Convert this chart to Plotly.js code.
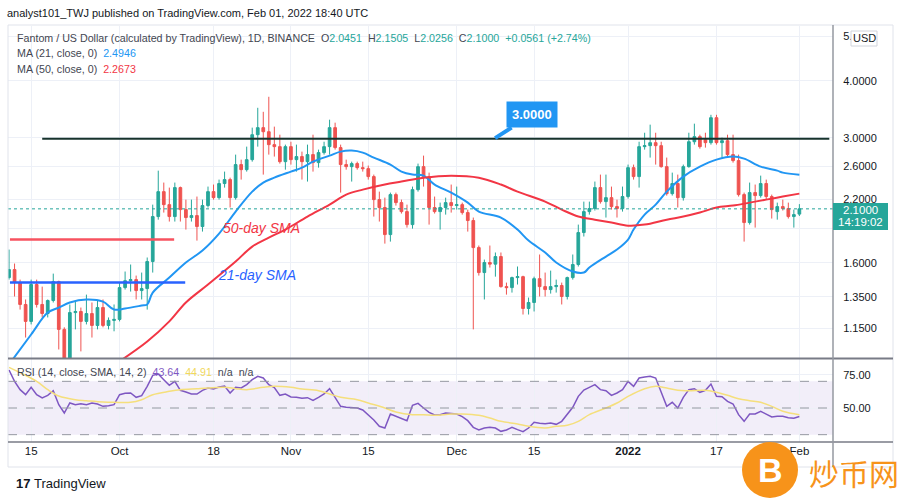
<!DOCTYPE html>
<html>
<head>
<meta charset="utf-8">
<script src="https://cdn.plot.ly/plotly-3.0.1.min.js"></script>
<style>
  html, body { margin: 0; padding: 0; background: #fff; }
  #chart { width: 900px; height: 499px; }
</style>
</head>
<body>
<div id="chart"></div>
<script>
// daily FTM/USD candles, 2021-09-11 .. 2022-02-01 (one value per day)
const startDate = '2021-09-11';

const opens = [
  1.486,1.547,1.449,1.298,1.192,1.435,1.298,1.240,1.324,1.456,1.145,0.985,1.246,1.253,1.192,1.240,1.168,1.278,1.168,1.198,
  1.204,1.413,1.463,1.471,1.392,1.406,1.611,2.020,2.290,2.145,2.020,2.337,2.092,2.010,2.030,1.921,2.135,2.290,2.222,2.385,2.433,2.222,2.624,2.558,2.690,3.050,3.160,3.096,2.901,2.872,2.663,
  2.872,2.690,2.732,2.663,2.759,2.650,2.787,2.872,3.160,2.858,2.624,2.597,2.637,2.584,2.571,2.470,2.200,2.114,1.845,2.256,2.167,2.071,1.940,2.313,2.597,2.470,2.114,2.071,2.114,2.167,
  2.135,2.145,2.061,1.980,1.728,1.524,1.603,1.590,1.652,1.420,1.413,1.486,1.493,1.272,1.311,1.478,1.420,1.399,1.420,1.428,1.351,1.486,1.587,1.864,2.071,2.103,2.337,2.178,2.222,2.124,2.103,
  2.234,2.584,2.470,2.872,2.886,2.930,2.886,2.597,2.267,2.385,2.222,2.597,2.944,3.020,2.974,2.930,3.322,2.930,2.959,2.759,2.677,2.256,1.960,2.279,2.245,2.385,2.234,2.071,2.124,2.103,2.020,
  2.0451
];
const highs = [
  1.711,1.595,1.471,1.331,1.471,1.471,1.420,1.331,1.516,1.463,1.157,1.298,1.317,1.278,1.364,1.311,1.324,1.331,1.216,1.298,
  1.449,1.532,1.587,1.501,1.524,1.644,2.145,2.545,2.397,2.337,2.397,2.349,2.200,2.200,2.234,2.200,2.349,2.373,2.433,2.533,2.457,2.759,2.690,2.872,3.160,3.492,3.422,3.691,3.176,3.050,2.901,
  2.944,2.901,2.801,2.901,3.050,2.829,2.944,3.289,3.240,2.901,2.690,2.663,2.663,2.663,2.611,2.495,2.290,2.222,2.279,2.279,2.200,2.145,2.349,2.637,2.745,2.520,2.234,2.167,2.222,2.373,
  2.349,2.167,2.092,2.010,1.746,1.627,1.746,1.686,1.686,1.449,1.493,1.571,1.500,1.344,1.493,1.669,1.524,1.539,1.471,1.449,1.493,1.669,1.940,2.178,2.178,2.409,2.495,2.495,2.349,2.200,2.349,
  2.624,2.624,2.944,3.080,3.208,3.080,2.944,2.718,2.520,2.495,2.624,3.080,3.224,3.050,3.080,3.371,3.371,3.005,3.050,3.050,2.759,2.279,2.397,2.373,2.482,2.433,2.256,2.167,2.200,2.167,2.092,
  2.1505
];
const lows = [
  1.471,1.351,1.265,1.099,1.174,1.278,1.216,1.216,1.311,1.035,0.950,0.960,1.145,1.025,1.174,1.099,1.145,1.157,1.145,1.134,
  1.192,1.399,1.385,1.331,1.331,1.265,1.524,1.989,2.061,1.970,1.970,1.970,1.892,1.970,1.790,1.873,2.114,2.200,2.200,2.337,2.114,2.200,2.433,2.533,2.663,2.872,2.495,2.759,2.732,2.637,2.558,
  2.624,2.533,2.433,2.409,2.533,2.584,2.759,2.759,2.829,2.279,2.558,2.409,2.558,2.533,2.433,2.020,1.970,1.763,1.781,2.135,2.051,1.911,1.901,2.290,2.349,1.940,2.051,1.892,2.040,2.061,
  2.092,2.040,1.873,1.145,1.501,1.331,1.563,1.493,1.413,1.364,1.378,1.435,1.234,1.234,1.253,1.351,1.351,1.371,1.378,1.298,1.331,1.471,1.571,1.827,2.040,2.082,2.156,2.010,2.092,2.010,2.071,
  2.211,2.433,2.337,2.829,2.718,2.624,2.584,2.245,2.245,2.114,2.189,2.584,2.901,2.843,2.858,2.901,2.901,2.718,2.732,2.650,2.234,1.781,1.940,1.911,2.222,2.200,2.000,1.989,2.082,2.000,1.911,
  2.0256
];
const closes = [
  1.547,1.449,1.298,1.192,1.435,1.298,1.240,1.324,1.456,1.145,0.985,1.246,1.253,1.192,1.240,1.168,1.278,1.168,1.198,1.204,
  1.413,1.463,1.471,1.392,1.406,1.611,2.020,2.290,2.145,2.020,2.337,2.092,2.010,2.030,1.921,2.135,2.290,2.222,2.385,2.433,2.222,2.624,2.558,2.690,3.050,3.160,3.096,2.901,2.872,2.663,2.872,
  2.690,2.732,2.663,2.759,2.650,2.787,2.872,3.160,2.858,2.624,2.597,2.637,2.584,2.571,2.470,2.200,2.114,1.845,2.256,2.167,2.071,1.940,2.313,2.597,2.470,2.114,2.071,2.114,2.167,2.135,
  2.145,2.061,1.980,1.728,1.524,1.603,1.590,1.652,1.420,1.413,1.486,1.493,1.272,1.311,1.478,1.420,1.399,1.420,1.428,1.351,1.486,1.587,1.864,2.071,2.103,2.337,2.178,2.222,2.124,2.103,2.234,
  2.584,2.470,2.872,2.886,2.930,2.886,2.597,2.267,2.385,2.222,2.597,2.944,3.020,2.872,2.930,3.322,2.930,2.959,2.759,2.677,2.256,1.960,2.279,2.245,2.385,2.234,2.092,2.124,2.103,2.020,2.040,
  2.1000
];

// RSI(14), one value per day, same dates as the candles
const rsiValues = [
  78.5,70,63.75,60,65.5,60,57.5,59.5,63,52.5,46.25,53.75,52.5,53.25,52.5,53.75,53,51.25,51.75,52.5,
  60,61,61.25,58,59.25,66.25,74.5,75.5,71.25,67,70,63.25,62,60.5,60.5,63.25,65,64.25,65.75,66.5,61.25,65.5,65,67.5,71.25,73.75,72.5,67.5,65.25,59.5,60.5,
  58.25,58,57.25,57.75,55.75,58,60.5,64.5,57.5,51.25,50.5,50.5,50,48.5,45,41,36.25,35,45.5,43.75,41.75,40.5,52,53.5,50,46.75,44.75,45,46.25,45.75,
  45.5,43.5,40.5,35.5,33.5,35,35.5,35,32.5,33.5,35.5,33.75,32.25,35,39.25,38.5,38.25,38.75,37.75,40,45,50.5,58.75,63.5,65.5,67.5,63.75,63,59.5,61.25,63.75,
  70,66.25,72.5,73.25,73.75,72.5,62.5,51.25,54.25,50,58,63.75,64.5,61.75,63.25,68,58.75,58.5,55,53,45,40,45.5,45.5,47.5,45.5,43.25,43.75,43.75,42.75,42.25,
  43.64
];

// RSI smoothing line (yellow), read at a few dates
const rsiSmaDates = ['2021-09-11','2021-09-13','2021-09-16','2021-09-18','2021-09-20','2021-09-23','2021-09-25','2021-09-28','2021-09-30',
  '2021-10-03','2021-10-05','2021-10-07','2021-10-10','2021-10-12','2021-10-15','2021-10-17','2021-10-20','2021-10-22','2021-10-24','2021-10-27','2021-10-29',
  '2021-11-01','2021-11-03','2021-11-06','2021-11-08','2021-11-10','2021-11-13','2021-11-15','2021-11-18','2021-11-20','2021-11-23','2021-11-25','2021-11-27','2021-11-30',
  '2021-12-02','2021-12-05','2021-12-07','2021-12-09','2021-12-12','2021-12-14','2021-12-17','2021-12-19','2021-12-21','2021-12-23','2021-12-25','2021-12-28','2021-12-30',
  '2022-01-01','2022-01-04','2022-01-06','2022-01-08','2022-01-10','2022-01-12','2022-01-15','2022-01-17','2022-01-19','2022-01-21','2022-01-23','2022-01-25','2022-01-27','2022-01-29','2022-02-01'];
const rsiSmaValues = [80.5,76.5,70,63.75,59,56.25,55.5,54.5,54.25,
  54.25,56.25,60,62.5,63.75,64.5,65,65.5,64.5,63.75,65.5,66.25,
  65.5,64.25,63,60.5,58,56.25,53.75,50,47,45,45,44.5,45.5,
  45.5,44.5,42.5,40,38,36.25,35,36.25,37,40,45,50,53.75,
  58.75,64.5,66.25,65,63.25,63,63.25,61.75,59.5,57,55.5,54.25,51.25,47.5,44.91];

// moving averages
const ma21Dates = ['2021-09-11','2021-09-15','2021-09-18','2021-09-20','2021-09-22','2021-09-25','2021-09-28','2021-09-30',
  '2021-10-02','2021-10-05','2021-10-06','2021-10-07','2021-10-10','2021-10-13','2021-10-16','2021-10-19','2021-10-22','2021-10-25','2021-10-27','2021-10-29',
  '2021-11-01','2021-11-03','2021-11-05','2021-11-08','2021-11-10','2021-11-12','2021-11-14','2021-11-16','2021-11-19','2021-11-21','2021-11-23','2021-11-25','2021-11-27','2021-11-30',
  '2021-12-03','2021-12-05','2021-12-09','2021-12-12','2021-12-14','2021-12-17','2021-12-19','2021-12-22','2021-12-24','2021-12-25','2021-12-28','2021-12-30',
  '2022-01-01','2022-01-02','2022-01-04','2022-01-06','2022-01-08','2022-01-11','2022-01-14','2022-01-17','2022-01-20','2022-01-22','2022-01-25','2022-01-28','2022-01-29','2022-02-01'];
const ma21Values = [0.96,1.116,1.246,1.278,1.311,1.331,1.317,1.265,
  1.272,1.291,1.298,1.378,1.486,1.603,1.703,1.854,2.071,2.290,2.397,2.457,
  2.533,2.584,2.663,2.745,2.801,2.815,2.787,2.718,2.624,2.533,2.495,2.482,2.373,2.279,
  2.167,2.071,2.010,1.892,1.790,1.686,1.603,1.532,1.524,1.563,1.652,1.711,
  1.799,1.892,2.040,2.145,2.290,2.470,2.597,2.690,2.732,2.704,2.597,2.545,2.520,2.4946];

const ma50Dates = ['2021-10-01','2021-10-06','2021-10-10','2021-10-13','2021-10-17','2021-10-22','2021-10-25','2021-10-28','2021-10-31',
  '2021-11-04','2021-11-08','2021-11-11','2021-11-14','2021-11-18','2021-11-21','2021-11-25','2021-11-30',
  '2021-12-05','2021-12-09','2021-12-12','2021-12-17','2021-12-20','2021-12-23','2021-12-26','2021-12-29',
  '2022-01-01','2022-01-04','2022-01-08','2022-01-11','2022-01-14','2022-01-17','2022-01-20','2022-01-23','2022-01-26','2022-01-29','2022-02-01'];
const ma50Values = [0.975,1.077,1.192,1.311,1.435,1.611,1.737,1.817,1.892,
  2.020,2.145,2.256,2.313,2.373,2.409,2.457,2.482,
  2.457,2.373,2.290,2.178,2.092,2.020,1.989,1.960,
  1.930,1.940,1.989,2.020,2.061,2.114,2.135,2.167,2.200,2.234,2.2673];

// drawn levels
const resistanceLevel = 2.99;
const redLevel = 1.80;
const blueLevel = 1.449;
const lastPrice = 2.1;

const priceTicks = [1.15, 1.35, 1.6, 1.9, 2.2, 2.6, 3, 4, 5];
const priceTickText = ['1.1500', '1.3500', '1.6000', '', '2.2000', '2.6000', '3.0000', '4.0000', '5.'];
const timeTicks = ['2021-09-15','2021-10-01','2021-10-18','2021-11-01','2021-11-15','2021-12-01','2021-12-15','2022-01-01','2022-01-17','2022-02-01'];
const timeTickText = ['15','Oct','18','Nov','15','Dec','15','<b>2022</b>','17','Feb'];

function dayList(start, n) {
  const out = [];
  const t0 = Date.parse(start + 'T00:00:00Z');
  for (let i = 0; i < n; i++) out.push(new Date(t0 + i * 86400000).toISOString().slice(0, 10));
  return out;
}
const dates = dayList(startDate, closes.length);

// pixel -> paper helpers for the decorations
const W = 900, H = 499, M = {l: 8, r: 67, t: 26, b: 57};
const px = x => (x - M.l) / (W - M.l - M.r);
const py = y => (H - M.b - y) / (H - M.t - M.b);
const LG = Math.log10;

const green = '#26a69a', red = '#ef5350';
const font = 'Liberation Sans, Arial, sans-serif';
const txt = '#131722';

const candles = {
  type: 'candlestick', x: dates, open: opens, high: highs, low: lows, close: closes,
  xaxis: 'x', yaxis: 'y',
  increasing: {line: {color: green, width: 1}, fillcolor: green},
  decreasing: {line: {color: red, width: 1}, fillcolor: red},
  hoverinfo: 'skip', showlegend: false
};
const ma21 = {
  type: 'scatter', mode: 'lines', x: ma21Dates, y: ma21Values, xaxis: 'x', yaxis: 'y',
  line: {color: '#2196f3', width: 2, shape: 'spline', smoothing: 1}, hoverinfo: 'skip', showlegend: false
};
const ma50 = {
  type: 'scatter', mode: 'lines', x: ma50Dates, y: ma50Values, xaxis: 'x', yaxis: 'y',
  line: {color: '#f23645', width: 2, shape: 'spline', smoothing: 1}, hoverinfo: 'skip', showlegend: false
};
const rsi = {
  type: 'scatter', mode: 'lines', x: dates, y: rsiValues, xaxis: 'x', yaxis: 'y2',
  line: {color: '#7e57c2', width: 1.5}, hoverinfo: 'skip', showlegend: false
};
const rsiSma = {
  type: 'scatter', mode: 'lines', x: rsiSmaDates, y: rsiSmaValues, xaxis: 'x', yaxis: 'y2',
  line: {color: '#f5df7c', width: 1.5, shape: 'spline', smoothing: 1}, hoverinfo: 'skip', showlegend: false
};

const shapes = [
  // RSI band and levels
  {type: 'rect', xref: 'paper', yref: 'y2', x0: 0, x1: 1, y0: 30, y1: 70, fillcolor: 'rgba(126,87,194,0.10)', line: {width: 0}, layer: 'below'},
  ...[70, 50, 30].map(v => ({type: 'line', xref: 'paper', yref: 'y2', x0: 0, x1: 1, y0: v, y1: v, line: {color: '#9598a1', width: 1, dash: 'dash'}})),
  // analyst lines (shapes take plain data values on the log axis)
  {type: 'line', xref: 'x', yref: 'y', x0: '2021-09-11 04:00', x1: '2021-10-10 21:00', y0: redLevel, y1: redLevel, line: {color: '#f7525f', width: 2.5}},
  {type: 'line', xref: 'x', yref: 'y', x0: '2021-09-11 04:00', x1: '2021-10-12 21:00', y0: blueLevel, y1: blueLevel, line: {color: '#2962ff', width: 2.5}},
  {type: 'line', xref: 'x', yref: 'y', x0: '2021-09-17 00:00', x1: '2022-02-06 10:00', y0: resistanceLevel, y1: resistanceLevel, line: {color: '#17332c', width: 2}},
  {type: 'line', xref: 'paper', yref: 'y', x0: 0, x1: 1, y0: lastPrice, y1: lastPrice, line: {color: green, width: 1, dash: 'dot'}},
  // frame and separators
  {type: 'rect', xref: 'paper', yref: 'paper', x0: px(8), x1: px(893), y0: py(467), y1: py(25), line: {color: '#e0e3eb', width: 1}},
  {type: 'line', xref: 'paper', yref: 'paper', x0: px(8), x1: px(893), y0: py(358.5), y1: py(358.5), line: {color: '#787b86', width: 2}},
  {type: 'line', xref: 'paper', yref: 'paper', x0: px(8), x1: px(893), y0: py(442), y1: py(442), line: {color: '#787b86', width: 1.5}},
  {type: 'line', xref: 'paper', yref: 'paper', x0: px(833), x1: px(833), y0: py(467), y1: py(25), line: {color: '#9598a1', width: 1.5}},
  // last price box and currency badge
  {type: 'rect', xref: 'paper', yref: 'paper', x0: px(833), x1: px(888), y0: py(230), y1: py(203), fillcolor: green, line: {width: 0}},
  {type: 'rect', xref: 'paper', yref: 'paper', x0: px(851), x1: px(877), y0: py(46), y1: py(31), fillcolor: '#ffffff', line: {color: '#d1d4dc', width: 1}},
  // watermark
  {type: 'circle', xref: 'paper', yref: 'paper', x0: px(742), x1: px(798), y0: py(498), y1: py(442), fillcolor: '#f7931a', line: {width: 0}}
];

const ann = (x, y, text, size, color, extra) => Object.assign({
  xref: 'paper', yref: 'paper', x: px(x), y: py(y), text: text, showarrow: false,
  xanchor: 'left', yanchor: 'middle', font: {family: font, size: size, color: color}
}, extra || {});
const sp = (c, t) => '<span style="color:' + c + '">' + t + '</span>';
const nb = '\u00a0';

const annotations = [
  ann(5, 13, 'analyst101_TWJ published on TradingView.com, Feb 01, 2022 18:40 UTC', 11, txt),
  ann(15, 38, 'Fantom / US Dollar (calculated by TradingView), 1D, BINANCE' + nb + nb +
    'O' + sp(green, '2.0451') + nb + nb + 'H' + sp(green, '2.1505') + nb + nb + 'L' + sp(green, '2.0256') + nb + nb +
    'C' + sp(green, '2.1000') + nb + nb + sp(green, '+0.0561 (+2.74%)'), 10.7, '#434651'),
  ann(15, 53, 'MA (21, close, 0)' + nb + nb + sp('#2196f3', '2.4946'), 10.7, '#434651'),
  ann(15, 69, 'MA (50, close, 0)' + nb + nb + sp('#f23645', '2.2673'), 10.7, '#434651'),
  ann(15, 372, 'RSI (14, close, SMA, 14, 2)' + nb + nb + sp('#7e57c2', '43.64') + nb + nb + sp('#f1d85c', '44.91') + nb + nb + 'n/a' + nb + nb + 'n/a', 10.7, '#434651'),
  ann(221, 228, '<i>50-day SMA</i>', 14, '#f23645'),
  ann(216, 275, '<i>21-day SMA</i>', 14, '#2962ff'),
  ann(860, 210, '2.1000', 11.5, '#ffffff', {xanchor: 'center'}),
  ann(860, 222, '14:19:02', 11.5, '#ffffff', {xanchor: 'center'}),
  ann(864, 38.5, 'USD', 11, txt, {xanchor: 'center'}),
  ann(14, 483, '<b>17</b>' + nb + 'TradingView', 13, txt),
  ann(770, 470, '<b>B</b>', 34, '#ffffff', {xanchor: 'center'}),
  ann(807, 472, '炒币网', 30, '#f7931a', {font: {family: 'Noto Sans CJK SC', size: 30, color: '#f7931a'}}),
  {xref: 'x', yref: 'y', x: '2021-12-07 19:00', y: LG(resistanceLevel), ax: 38, ay: -24,
   text: '<b>3.0000</b>', showarrow: true, arrowhead: 0, arrowwidth: 4, arrowcolor: '#2196f3', standoff: 1,
   bgcolor: '#2196f3', borderpad: 5, font: {family: font, size: 13, color: '#ffffff'}}
];

const layout = {
  width: W, height: H,
  margin: M,
  paper_bgcolor: '#ffffff', plot_bgcolor: '#ffffff',
  showlegend: false,
  hovermode: false,
  xaxis: {
    type: 'date', anchor: 'y2', range: ['2021-09-10 19:30', '2022-02-07 02:00'],
    tickvals: timeTicks, ticktext: timeTickText, tickfont: {family: font, size: 11.5, color: txt},
    showgrid: true, gridcolor: '#edf0f7', zeroline: false, showline: false, ticks: '',
    rangeslider: {visible: false}
  },
  yaxis: {
    domain: [py(358.5), 1], type: 'log', range: [LG(0.989), LG(5.27)], side: 'right',
    tickvals: priceTicks, ticktext: priceTickText,
    tickfont: {family: font, size: 11, color: txt}, ticks: 'outside', ticklen: 7, tickcolor: 'rgba(0,0,0,0)',
    showgrid: true, gridcolor: '#edf0f7', zeroline: false, showline: false
  },
  yaxis2: {
    domain: [0, py(359)], range: [24.5, 86.75], side: 'right',
    tickvals: [50, 75], ticktext: ['50.00', '75.00'],
    tickfont: {family: font, size: 11, color: txt}, ticks: 'outside', ticklen: 7, tickcolor: 'rgba(0,0,0,0)',
    showgrid: true, gridcolor: '#edf0f7', zeroline: false, showline: false
  },
  shapes: shapes,
  annotations: annotations
};

Plotly.newPlot('chart', [rsi, rsiSma, ma21, ma50, candles], layout, {displayModeBar: false, staticPlot: true});
</script>
</body>
</html>
